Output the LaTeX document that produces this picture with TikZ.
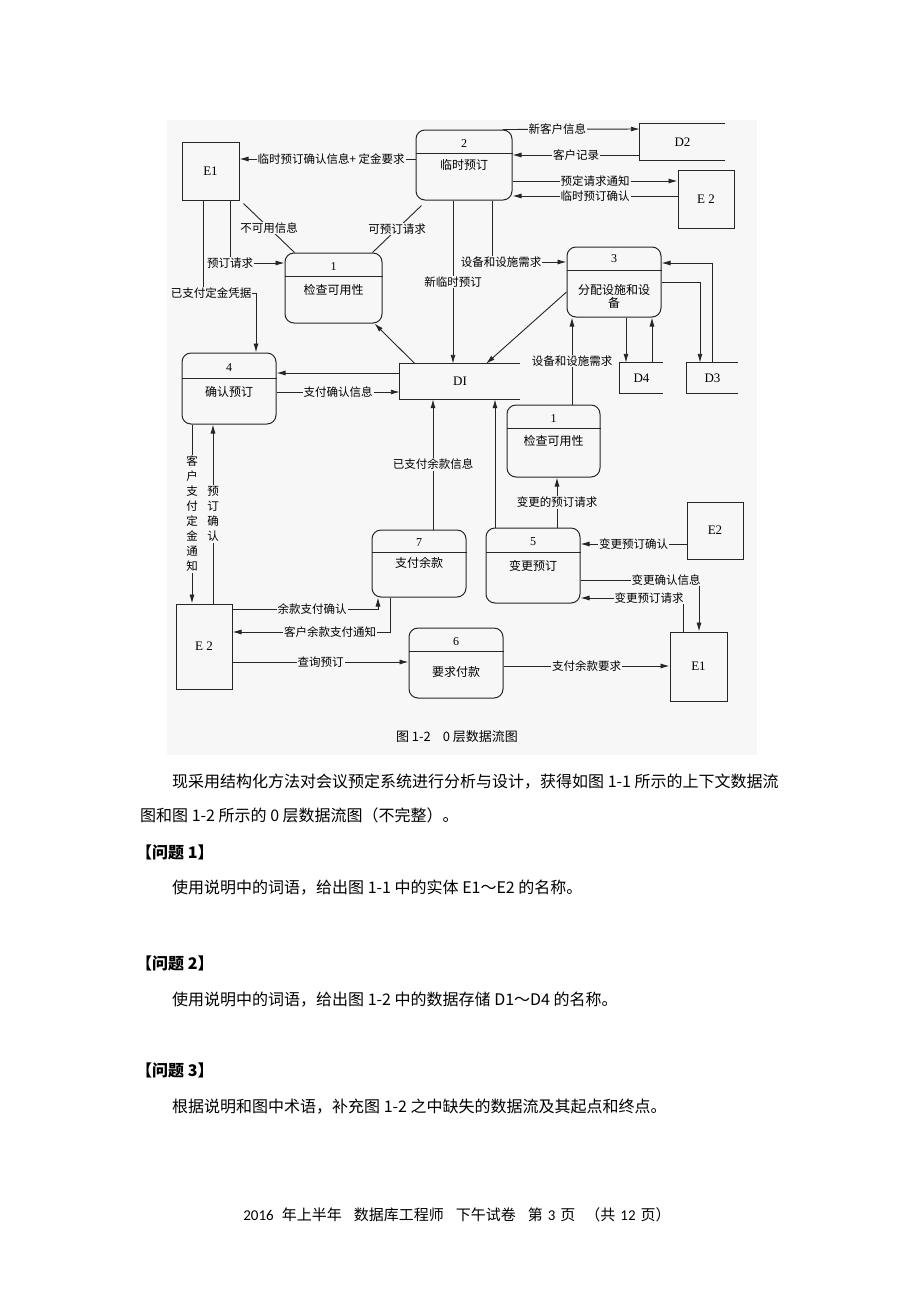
\documentclass[tikz,border=0pt]{standalone}
\usepackage{fontspec}
\setmainfont{Liberation Serif}
\newfontfamily\cjk{Noto Sans CJK SC}
\newfontfamily\carl{Carlito}
\usetikzlibrary{arrows.meta}
\definecolor{paper}{gray}{0.97}
\definecolor{ink}{gray}{0.15}
\tikzstyle{proc} = [rectangle, rounded corners=9pt, draw=ink, line width=1pt]
\tikzstyle{ent} = [rectangle, draw=ink, line width=1pt, font=\fontsize{13}{15}\selectfont]
\tikzstyle{store} = [rectangle, inner sep=0pt, font=\fontsize{13}{15}\selectfont]
\tikzstyle{link} = [draw=ink, line width=0.9pt]
\tikzstyle{flow} = [link, -{Latex[length=9pt,width=5pt]}]
\tikzstyle{lbl} = [fill=paper, inner sep=1pt, font=\cjk\fontsize{11.5}{13}\selectfont]
\tikzstyle{vlbl} = [lbl, align=center, font=\cjk\fontsize{11.5}{15}\selectfont]
\tikzstyle{ptxt} = [align=center, inner sep=0pt, font=\cjk\fontsize{12}{14}\selectfont]
\tikzstyle{pnum} = [inner sep=0pt, font=\fontsize{12}{14}\selectfont]
\tikzstyle{body} = [anchor=west, inner sep=0pt, font=\cjk\fontsize{16}{18}\selectfont]

\begin{document}
\begin{tikzpicture}[x=1pt, y=-1pt]
\fill[white] (0,0) rectangle (920,1302);
\useasboundingbox (0,0) rectangle (920,1302);
\fill[paper] (167,120) rectangle (757,755);

% external entities
\node (E1t) [ent, minimum width=57, minimum height=58] at (210.5,171) {E1};
\node (E2t) [ent, minimum width=56, minimum height=58] at (706,199) {E 2};
\node (E2r) [ent, minimum width=56, minimum height=57] at (715,530.5) {E2};
\node (E2l) [ent, minimum width=56, minimum height=85] at (204,646.5) {E 2};
\node (E1l) [ent, minimum width=57, minimum height=69] at (698.5,666.5) {E1};

% data stores
\node (D2) [store, minimum width=85, minimum height=36] at (682.5,142) {D2};
\node (D1) [store, minimum width=120, minimum height=35] at (460,381.5) {DI};
\node (D4) [store, minimum width=43, minimum height=30] at (641.5,378) {D4};
\node (D3) [store, minimum width=51, minimum height=30] at (712.5,378) {D3};
\foreach \d in {D2,D1,D4,D3}
  \draw[link] (\d.north east) -- (\d.north west) -- (\d.south west) -- (\d.south east);

% processes
\node (P2) [proc, minimum width=96, minimum height=70] at (464,165) {};
\node (P1a) [proc, minimum width=97, minimum height=70] at (333.5,288) {};
\node (P3) [proc, minimum width=94, minimum height=70] at (614,282) {};
\node (P4) [proc, minimum width=94, minimum height=71] at (229,388.5) {};
\node (P1b) [proc, minimum width=93, minimum height=72] at (553.5,441) {};
\node (P7) [proc, minimum width=94, minimum height=67] at (419,563.5) {};
\node (P5) [proc, minimum width=94, minimum height=75] at (533,565.5) {};
\node (P6) [proc, minimum width=94, minimum height=70] at (456,663) {};

\draw[link] (P2.west |- 0,153) -- (P2.east |- 0,153);
\draw[link] (P1a.west |- 0,276) -- (P1a.east |- 0,276);
\draw[link] (P3.west |- 0,270) -- (P3.east |- 0,270);
\draw[link] (P4.west |- 0,378) -- (P4.east |- 0,378);
\draw[link] (P1b.west |- 0,428) -- (P1b.east |- 0,428);
\draw[link] (P7.west |- 0,552) -- (P7.east |- 0,552);
\draw[link] (P5.west |- 0,552) -- (P5.east |- 0,552);
\draw[link] (P6.west |- 0,651) -- (P6.east |- 0,651);

\node (P2no) [pnum] at (464,144) {2};
\node (P2tx) [ptxt] at (464,165) {临时预订};
\node (P1ano) [pnum] at (333.5,267) {1};
\node (P1atx) [ptxt] at (333.5,290) {检查可用性};
\node (P3no) [pnum] at (614,259) {3};
\node (P3tx) [ptxt, font=\cjk\fontsize{12}{13.5}\selectfont] at (614,296.5) {分配设施和设\\备};
\node (P4no) [pnum] at (229,368) {4};
\node (P4tx) [ptxt] at (229,392) {确认预订};
\node (P1bno) [pnum] at (553.5,419) {1};
\node (P1btx) [ptxt] at (553.5,441) {检查可用性};
\node (P7no) [pnum] at (419,543) {7};
\node (P7tx) [ptxt] at (419,563) {支付余款};
\node (P5no) [pnum] at (533,542) {5};
\node (P5tx) [ptxt] at (533,566) {变更预订};
\node (P6no) [pnum] at (456,642) {6};
\node (P6tx) [ptxt] at (456,672) {要求付款};

% data flows, top part
\draw[flow] (P2.west |- 0,159) -- node[lbl, pos=0.48]{临时预订确认信息+ 定金要求} (E1t.east |- 0,159);
\draw[link] ([shift={(4pt,-3pt)}]E1t.south east) -- node[lbl]{不可用信息} ([xshift=10pt]P1a.north west);
\draw[link] ([shift={(6pt,-5pt)}]P2.south west) -- node[lbl]{可预订请求} ([xshift=-10pt]P1a.north east);
\draw[flow] ([xshift=19.5pt]E1t.south) |- node[lbl]{预订请求} (P1a.west |- 0,263);
\draw[flow] ([xshift=-7.5pt]E1t.south) -- ++(0,93) -| ([xshift=27pt]P4.north);
\node (lbPaid) [lbl] at (211,293) {已支付定金凭据};
\draw[flow] ([xshift=-11pt]P2.south) -- node[lbl]{新临时预订} ([xshift=-11pt]P2.south |- D1.north);
\draw[flow] ([xshift=28pt]P2.south) |- (P3.west |- 0,262);
\node (lbNeedA) [lbl] at (501,262) {设备和设施需求};
\draw[flow] ([yshift=-10pt]P3.west) -- ([xshift=26pt]D1.north);
\draw[flow] ([xshift=-45pt]D1.north) -- ([xshift=-8pt]P1a.south east);
\draw[flow] ([xshift=-10pt]P2.north east) -- node[lbl, pos=0.4]{新客户信息} (D2.west |- 0,129);
\draw[flow] (D2.west |- 0,155) -- node[lbl]{客户记录} (P2.east |- 0,155);
\draw[flow] (P2.east |- 0,181) -- node[lbl]{预定请求通知} (E2t.west |- 0,181);
\draw[flow] (E2t.west |- 0,196) -- node[lbl]{临时预订确认} (P2.east |- 0,196);
\draw[flow] ([xshift=12pt]P3.south) -- ([xshift=12pt]P3.south |- D4.north);
\draw[flow] ([xshift=38pt]P3.south |- D4.north) -- ([xshift=38pt]P3.south);
\draw[flow] (P3.east) -| ([xshift=-12.5pt]D3.north);
\draw[flow] (D3.north) |- (P3.east |- 0,263);
\draw[flow] ([xshift=18.5pt]P1b.north) -- node[lbl]{设备和设施需求} ([xshift=18.5pt]P1b.north |- P3.south);

% data flows, middle part
\draw[flow] (D1.west |- 0,373) -- (P4.east |- 0,373);
\draw[flow] (P4.east |- 0,392) -- node[lbl]{支付确认信息} (D1.west |- 0,392);
\draw[flow] ([xshift=-37pt]P4.south) -- node[vlbl]{客\\户\\支\\付\\定\\金\\通\\知} ([xshift=-37pt]P4.south |- E2l.north);
\draw[flow] ([xshift=-16pt]P4.south |- E2l.north) -- node[vlbl]{预\\订\\确\\认} ([xshift=-16pt]P4.south);
\draw[flow] ([xshift=14pt]P7.north) -- node[lbl]{已支付余款信息} ([xshift=14pt]P7.north |- D1.south);
\draw[flow] ([xshift=-38pt]P5.north) -- ([xshift=-38pt]P5.north |- D1.south);
\draw[flow] ([xshift=24pt]P5.north) -- node[lbl]{变更的预订请求} ([xshift=24pt]P5.north |- P1b.south);
\draw[flow] (E2r.west |- 0,544) -- node[lbl]{变更预订确认} (P5.east |- 0,544);
\draw[flow] (P5.east |- 0,580) -| ([xshift=0.5pt]E1l.north);
\node (lbChgInfo) [lbl] at (666,580) {变更确认信息};
\draw[flow] ([xshift=-15.5pt]E1l.north) |- (P5.east |- 0,598);
\node (lbChgReq) [lbl] at (649,598) {变更预订请求};

% data flows, bottom part
\draw[flow] (E2l.east |- 0,609) -| ([xshift=-41pt]P7.south);
\node (lbBalOk) [lbl] at (312,609) {余款支付确认};
\draw[flow] ([xshift=-29pt]P7.south) |- (E2l.east |- 0,632);
\node (lbBalNote) [lbl] at (330,632) {客户余款支付通知};
\draw[flow] (E2l.east |- 0,662) -- node[lbl]{查询预订} (P6.west |- 0,662);
\draw[flow] (P6.east |- 0,666) -- node[lbl]{支付余款要求} (E1l.west |- 0,666);

\node (cap) [font=\cjk\fontsize{13}{15}\selectfont] at (457,737) {图 1-2\hspace{12pt}0 层数据流图};

% text of the page
\node (t1) [body] at (172,782) {现采用结构化方法对会议预定系统进行分析与设计，获得如图 1-1 所示的上下文数据流};
\node (t2) [body] at (140,815) {图和图 1-2 所示的 0 层数据流图（不完整）。};
\node (q1) [body, font=\cjk\bfseries\fontsize{16}{18}\selectfont] at (136,852) {【问题 1】};
\node (t3) [body] at (172,888) {使用说明中的词语，给出图 1-1 中的实体 E1～E2 的名称。};
\node (q2) [body, font=\cjk\bfseries\fontsize{16}{18}\selectfont] at (136,963) {【问题 2】};
\node (t4) [body] at (172,1000) {使用说明中的词语，给出图 1-2 中的数据存储 D1～D4 的名称。};
\node (q3) [body, font=\cjk\bfseries\fontsize{16}{18}\selectfont] at (136,1070) {【问题 3】};
\node (t5) [body] at (172,1107) {根据说明和图中术语，补充图 1-2 之中缺失的数据流及其起点和终点。};
\node (foot) [font=\cjk\fontsize{15}{17}\selectfont] at (457,1215) {{\carl 2016}\hspace{8pt}年上半年\hspace{12pt}数据库工程师\hspace{12pt}下午试卷\hspace{12pt}第\hspace{5pt}{\carl 3}\hspace{5pt}页\hspace{10pt}（共\hspace{5pt}{\carl 12}\hspace{5pt}页）};
\end{tikzpicture}
\end{document}
